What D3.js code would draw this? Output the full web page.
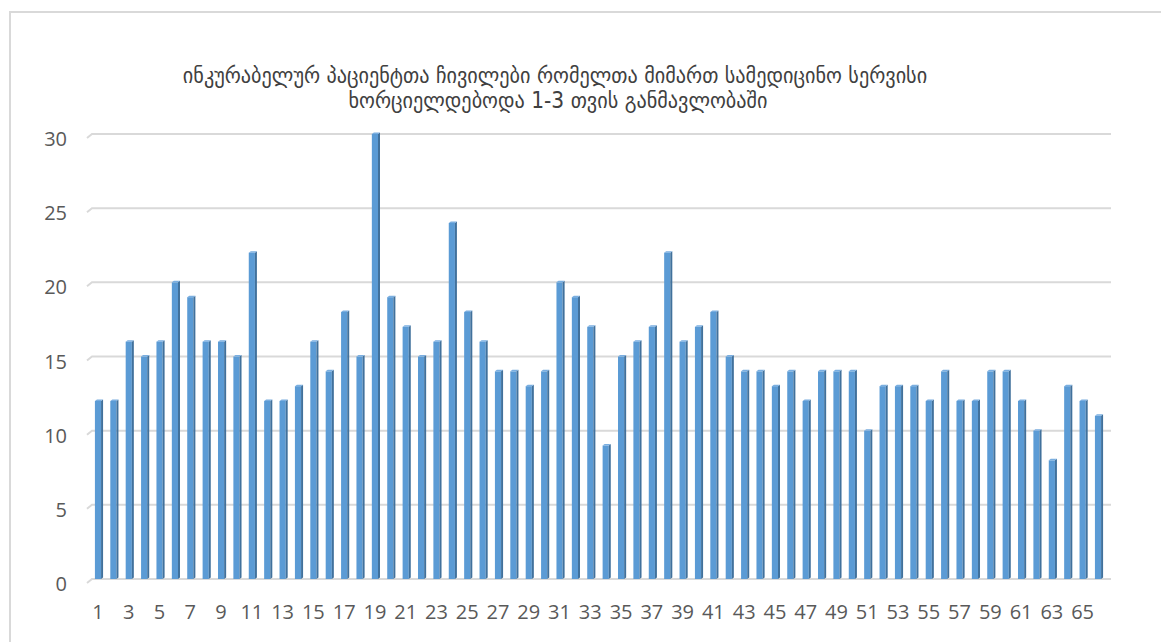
<!DOCTYPE html>
<html>
<head>
<meta charset="utf-8">
<script src="https://cdn.jsdelivr.net/npm/d3@7"></script>
<style>
  body { margin: 0; background: #fff; }
  svg { display: block; }
</style>
</head>
<body>
<div id="chart"></div>
<script>
// chart data
const titleLines = [
  "ინკურაბელურ პაციენტთა ჩივილები რომელთა მიმართ სამედიცინო სერვისი",
  "ხორციელდებოდა  1-3 თვის განმავლობაში"
];
const categories = d3.range(1, 67);
const values = [
  12, 12, 16, 15, 16, 20, 19, 16, 16, 15, 22, 12, 12, 13, 16, 14, 18, 15, 30, 19,
  17, 15, 16, 24, 18, 16, 14, 14, 13, 14, 20, 19, 17, 9, 15, 16, 17, 22, 16, 17,
  18, 15, 14, 14, 13, 14, 12, 14, 14, 14, 10, 13, 13, 13, 12, 14, 12, 12, 14, 14,
  12, 10, 8, 13, 12, 11
];
const yTicks = [0, 5, 10, 15, 20, 25, 30];

let width = 1161, height = 642;

let svg = d3.select('#chart')
  .append('svg')
  .attr('width', width)
  .attr('height', height);

// chart frame (only top and left edges show)
svg.append('path')
  .attr('d', `M10,${height + 5} V12 H${width + 5}`)
  .attr('fill', 'none')
  .attr('stroke', '#d9d9d9')
  .attr('stroke-width', 2);

let x = d3.scaleBand()
  .domain(categories)
  .range([91.3, 1106.7])
  .paddingInner(0.47)
  .paddingOuter(0.235);

let y = d3.scaleLinear()
  .domain([0, 30])
  .range([579, 134]);

// gridlines with small 3D kink at the left end
svg.append('g')
  .selectAll('path')
  .data(yTicks)
  .enter()
  .append('path')
  .attr('d', d => `M87,${y(d) + 4} L92,${y(d)} H1111`)
  .attr('fill', 'none')
  .attr('stroke', '#d9d9d9')
  .attr('stroke-width', 2);

// y labels
svg.append('g')
  .selectAll('text')
  .data(yTicks)
  .enter()
  .append('text')
  .attr('x', 67)
  .attr('y', d => y(d) + 5)
  .attr('dy', '0.35em')
  .attr('text-anchor', 'end')
  .style('font-family', '"Open Sans", sans-serif')
  .style('font-size', '20px')
  .attr('fill', '#595959')
  .text(d => d);

// x labels, every other category
svg.append('g')
  .selectAll('text')
  .data(categories.filter(c => c % 2 === 1))
  .enter()
  .append('text')
  .attr('x', d => x(d) + x.bandwidth() / 2 - 1)
  .attr('y', 612)
  .attr('dy', '0.35em')
  .attr('text-anchor', 'middle')
  .style('font-family', '"Open Sans", sans-serif')
  .style('font-size', '20px')
  .attr('fill', '#595959')
  .text(d => d);

// 3D-ish columns
let bars = svg.append('g')
  .selectAll('g')
  .data(values)
  .enter()
  .append('g');

let side = 2, depth = 1.5;

bars.append('rect')
  .attr('x', (d, i) => x(categories[i]))
  .attr('y', d => y(d))
  .attr('width', x.bandwidth() - side)
  .attr('height', d => y(0) - y(d))
  .attr('fill', '#5b9bd5');

bars.append('path')
  .attr('d', (d, i) => {
    let x0 = x(categories[i]) + x.bandwidth() - side;
    return `M${x0},${y(d)} L${x0 + side},${y(d) - depth} V${y(0) - depth} L${x0},${y(0)} Z`;
  })
  .attr('fill', '#41719c');

bars.append('path')
  .attr('d', (d, i) => {
    let x0 = x(categories[i]);
    let w = x.bandwidth() - side;
    return `M${x0},${y(d)} L${x0 + side},${y(d) - depth} H${x0 + w + side} L${x0 + w},${y(d)} Z`;
  })
  .attr('fill', '#7aaee0');

// title, two centred lines
let title = svg.append('g')
  .selectAll('text')
  .data(titleLines)
  .enter()
  .append('text')
  .attr('x', (d, i) => i === 0 ? 555 : 558)
  .attr('y', (d, i) => 75 + i * 25)
  .attr('dy', '0.35em')
  .attr('text-anchor', 'middle')
  .style('font-family', '"DejaVu Sans", sans-serif')
  .style('font-stretch', 'condensed')
  .style('font-size', '17px')
  .attr('fill', '#404040')
  .text(d => d);

// fit line 1 to the width it has in the original
let firstLine = title.filter((d, i) => i === 0).node();
let scale = 745 / firstLine.getComputedTextLength();
title.style('font-size', (17 * scale) + 'px');
</script>
</body>
</html>
